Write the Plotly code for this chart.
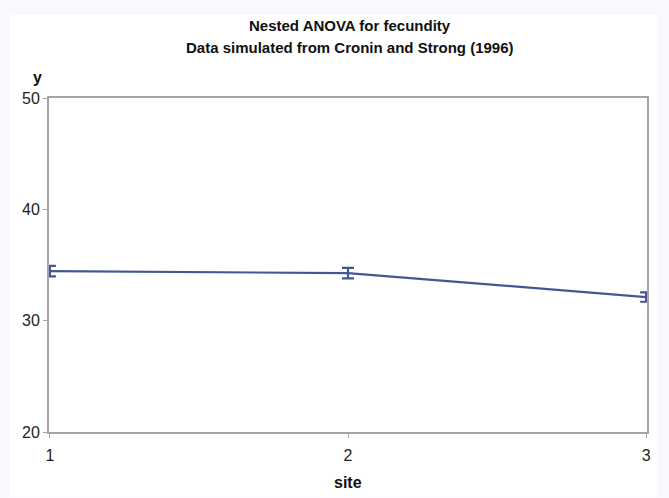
import plotly.graph_objects as go

site = [1, 2, 3]
mean_y = [34.45, 34.27, 32.12]
err_y = [0.47, 0.47, 0.42]
y_ticks = [20, 30, 40, 50]
x_ticks = [1, 2, 3]
title_lines = ["Nested ANOVA for fecundity", "Data simulated from Cronin and Strong (1996)"]

LINE = "#445694"
AXIS = "#a5a5a5"
FONT = "Liberation Sans"

PL, PR, PT, PB = 49, 647, 98, 432
PW, PH = PR - PL, PB - PT


def px(x):
    return (x - PL) / PW


def py(y):
    return (PB - y) / PH


fig = go.Figure()
fig.add_trace(go.Scatter(
    x=site, y=mean_y, mode="lines",
    line=dict(color=LINE, width=2.2),
    error_y=dict(type="data", array=err_y, visible=True, color=LINE, thickness=2.2, width=6),
    showlegend=False, hoverinfo="skip",
))

annotations = [
    dict(text="<b>y</b>", xref="paper", yref="paper", x=px(37), y=py(78),
         showarrow=False, xanchor="center", yanchor="middle", font=dict(family=FONT, size=16, color="#111111")),
    dict(text="<b>site</b>", xref="paper", yref="paper", x=0.5, y=py(482),
         showarrow=False, xanchor="center", yanchor="middle", font=dict(family=FONT, size=16, color="#111111")),
]
for i, t in enumerate(title_lines):
    annotations.append(dict(text="<b>%s</b>" % t, xref="paper", yref="paper", x=px(350), y=py(25 + 22 * i),
                            showarrow=False, xanchor="center", yanchor="middle",
                            font=dict(family=FONT, size=15, color="#111111")))

fig.update_layout(
    width=669, height=498,
    margin=dict(l=PL, r=669 - PR, t=PT, b=498 - PB),
    paper_bgcolor="#f7f9fd",
    plot_bgcolor="white",
    font=dict(family=FONT, size=15, color="#222222"),
    shapes=[dict(type="rect", xref="paper", yref="paper", x0=px(9), x1=px(658),
                 y0=py(497), y1=py(15), fillcolor="white", line=dict(width=0), layer="below")],
    annotations=annotations,
)
fig.update_xaxes(
    range=[0.997, 3.003], tickvals=x_ticks, ticktext=[str(v) for v in x_ticks],
    showgrid=False, zeroline=False, showline=True, linecolor=AXIS, linewidth=2, mirror=True,
    ticks="outside", ticklen=4, tickcolor=AXIS, tickwidth=1, ticklabelstandoff=4,
    tickfont=dict(family=FONT, size=16, color="#222222"),
)
fig.update_yaxes(
    range=[20, 50], tickvals=y_ticks, ticktext=[str(v) for v in y_ticks],
    showgrid=False, zeroline=False, showline=True, linecolor=AXIS, linewidth=2, mirror=True,
    ticks="outside", ticklen=4, tickcolor=AXIS, tickwidth=1,
    tickfont=dict(family=FONT, size=16, color="#222222"),
)

fig.write_html("out.html")
